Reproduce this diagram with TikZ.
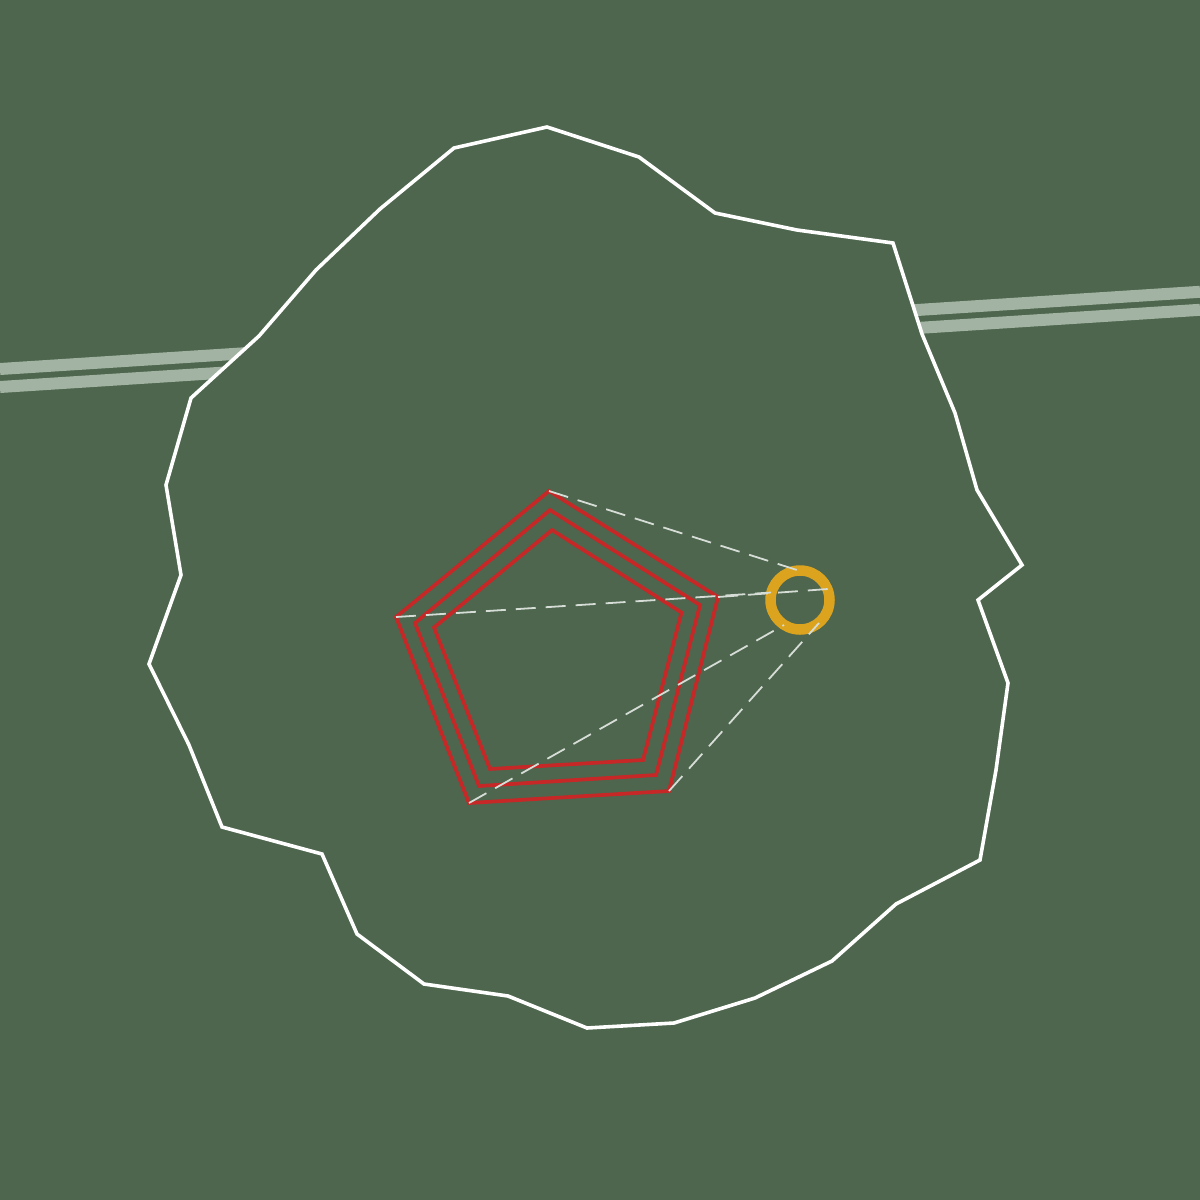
\documentclass[tikz,border=0pt]{standalone}
\begin{document}
\begin{tikzpicture}[x=1pt,y=-1pt,
  road/.style={line width=12pt,draw=roadc},
  boundary/.style={draw=white,fill=bgc,line width=3.6pt,line join=miter},
  ring/.style={draw=redc,line width=3.7pt,line join=miter},
  sight/.style={draw=dashc,line width=1.8pt,dash pattern=on 20pt off 10pt},
  target/.style={draw=goldc,line width=10.5pt}]
\definecolor{bgc}{HTML}{4D664D}
\definecolor{roadc}{HTML}{A3B3A3}
\definecolor{redc}{HTML}{C62828}
\definecolor{dashc}{HTML}{D6DCD6}
\definecolor{goldc}{HTML}{DCA41E}
\useasboundingbox (0,0) rectangle (1200,1200);
\fill[bgc] (0,0) rectangle (1200,1200);
% road
\draw[road] (0,369) -- (1200,291.8);
\draw[road] (0,387) -- (1200,309.8);
% boundary
\draw[boundary] (547,127) -- (639,157) -- (715,213) -- (797,230) -- (893,243) -- (922,334) -- (955,413) -- (977,490) -- (1022,565) -- (978,600) -- (1008,683) -- (996,770) -- (980,860) -- (896,904) -- (832,961) -- (755,998) -- (674,1023) -- (587,1028) -- (508,996) -- (424,984) -- (357,934) -- (322,854) -- (222,827) -- (189,745) -- (149,664) -- (181,575) -- (166,485) -- (191,398) -- (259,336) -- (316,270) -- (380,209) -- (454,148) -- cycle;
% pentagons
\coordinate (pT) at (549,491);
\coordinate (pR) at (718,597);
\coordinate (pBR) at (669,791);
\coordinate (pBL) at (469,803);
\coordinate (pL) at (396,617);
\draw[ring] (pT) -- (pR) -- (pBR) -- (pBL) -- (pL) -- cycle;
\draw[ring] (550,510) -- (700,605) -- (656,775) -- (479,786) -- (415,623) -- cycle;
\draw[ring] (552,530) -- (681.5,612.5) -- (643,760) -- (490,769) -- (434,627.5) -- cycle;
% target circle
\coordinate (c) at (800,600);
\draw[target] (c) circle[radius=29.5pt];
\coordinate (cT) at (797,570);
\coordinate (cR) at (828,589);
\coordinate (cBR) at (819,623);
\coordinate (cBL) at (784,625);
\coordinate (cL) at (771,592.5);
% sight lines
\draw[sight] (pT) -- (cT);
\draw[sight] (pR) -- (cR);
\draw[sight] (pBR) -- (cBR);
\draw[sight] (pBL) -- (cBL);
\draw[sight] (pL) -- (cL);
\end{tikzpicture}
\end{document}
